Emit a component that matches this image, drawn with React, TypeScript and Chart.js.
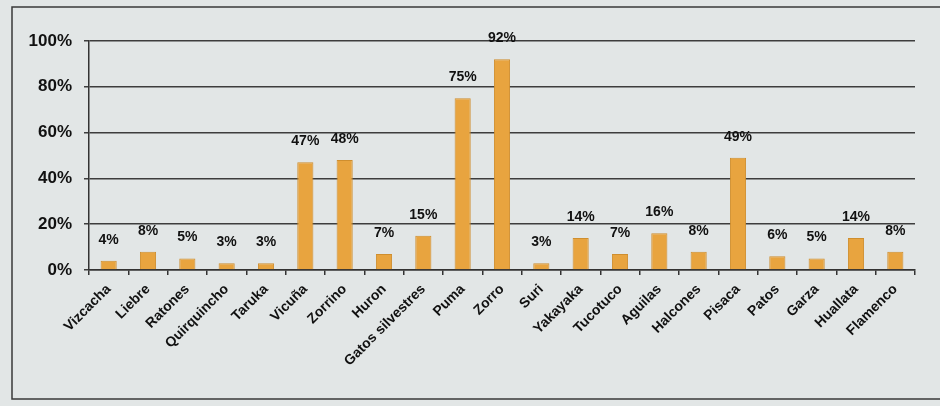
import React, { useEffect, useRef } from "react";
import { Chart, registerables } from "chart.js";

Chart.register(...registerables);

const categories = [
  "Vizcacha", "Liebre", "Ratones", "Quirquincho", "Taruka", "Vicuña", "Zorrino",
  "Huron", "Gatos silvestres", "Puma", "Zorro", "Suri", "Yakayaka", "Tucotuco",
  "Aguilas", "Halcones", "Pisaca", "Patos", "Garza", "Huallata", "Flamenco",
];
const values = [4, 8, 5, 3, 3, 47, 48, 7, 15, 75, 92, 3, 14, 7, 16, 8, 49, 6, 5, 14, 8];
const yTicks = [0, 20, 40, 60, 80, 100];

const FONT = "'Liberation Sans', Arial, sans-serif";

const framePlugin = {
  id: "frame",
  beforeDraw(chart: any) {
    const { ctx, width, height } = chart;
    ctx.save();
    ctx.fillStyle = "#e2e6e6";
    ctx.fillRect(0, 0, width, height);
    ctx.strokeStyle = "#3a3a3a";
    ctx.lineWidth = 1.5;
    ctx.beginPath();
    ctx.moveTo(width, 7);
    ctx.lineTo(12, 7);
    ctx.lineTo(12, 399);
    ctx.lineTo(width, 399);
    ctx.stroke();
    ctx.restore();
  },
};

const labelPlugin = {
  id: "barLabels",
  afterDatasetsDraw(chart: any) {
    const { ctx } = chart;
    const meta = chart.getDatasetMeta(0);
    ctx.save();
    ctx.fillStyle = "#111";
    ctx.font = `bold 14px ${FONT}`;
    ctx.textAlign = "center";
    ctx.textBaseline = "middle";
    meta.data.forEach((bar: any, i: number) => {
      ctx.fillText(`${values[i]}%`, bar.x, bar.y - 21);
    });
    ctx.restore();
  },
};

export default function App() {
  const ref = useRef<HTMLCanvasElement>(null);
  useEffect(() => {
    if (!ref.current) return;
    const chart = new Chart(ref.current, {
      type: "bar",
      data: {
        labels: categories,
        datasets: [
          {
            data: values,
            backgroundColor: "#e8a43f",
            borderColor: "#cf8e2e",
            borderWidth: 1,
            barPercentage: 0.82,
            categoryPercentage: 0.5,
          },
        ],
      },
      options: {
        animation: false,
        responsive: false,
        maintainAspectRatio: false,
        layout: { padding: { top: 41, right: 25, left: 0, bottom: 0 } },
        plugins: { legend: { display: false }, tooltip: { enabled: false } },
        scales: {
          x: {
            offset: true,
            grid: {
              offset: true,
              drawOnChartArea: false,
              drawTicks: true,
              tickLength: 5,
              color: "#333",
              lineWidth: 1.5,
            },
            border: { display: true, color: "#333", width: 1.5 },
            ticks: {
              autoSkip: false,
              maxRotation: 45,
              minRotation: 45,
              color: "#111",
              padding: 6,
              font: { family: FONT, size: 14, weight: "bold" },
            },
            afterFit(scale: any) {
              scale.height = 136;
            },
          },
          y: {
            min: 0,
            max: 100,
            afterBuildTicks(scale: any) {
              scale.ticks = yTicks.map((v) => ({ value: v }));
            },
            grid: {
              color: "#3d3d3d",
              lineWidth: 1.5,
              drawTicks: true,
              tickLength: 5,
            },
            border: { display: true, color: "#333", width: 1.5 },
            ticks: {
              color: "#111",
              padding: 12,
              font: { family: FONT, size: 17, weight: "bold" },
              callback: (v: any) => `${v}%`,
            },
            afterFit(scale: any) {
              scale.width = 89;
            },
          },
        },
      },
      plugins: [framePlugin, labelPlugin],
    });
    return () => chart.destroy();
  }, []);
  return (
    <div style={{ position: "absolute", left: 0, top: 0, width: 940, height: 406 }}>
      <canvas ref={ref} width={940} height={406} style={{ width: 940, height: 406 }} />
    </div>
  );
}
